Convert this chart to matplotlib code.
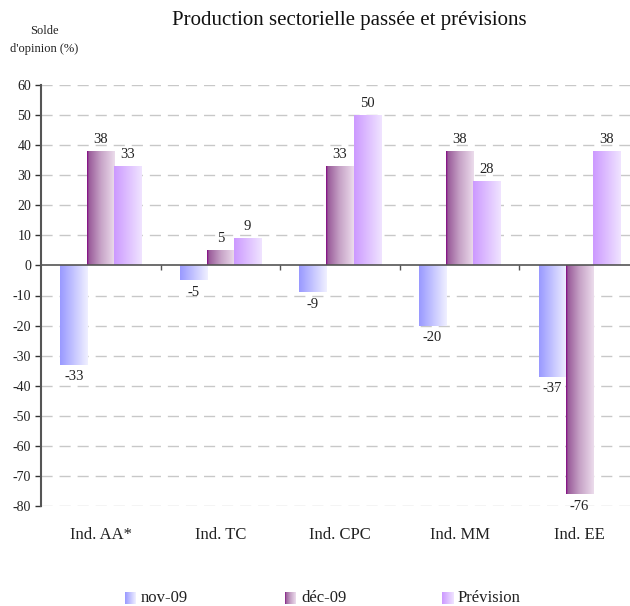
import numpy as np
import matplotlib
matplotlib.use("Agg")
import matplotlib.pyplot as plt
from matplotlib.colors import LinearSegmentedColormap

categories = ["Ind. AA*", "Ind. TC", "Ind. CPC", "Ind. MM", "Ind. EE"]
series_names = ["nov-09", "déc-09", "Prévision"]
nov09 = [-33, -5, -9, -20, -37]
dec09 = [38, 5, 33, 38, -76]
prevision = [33, 9, 50, 28, 38]
yticks = list(range(-80, 61, 10))

title = "Production sectorielle passée et prévisions"
ylabel = "Solde\nd'opinion (%)"

grad_colors = [
    [(0, "#9999ff"), (1, "#f0f0ff")],
    [(0, "#800080"), (0.07, "#9a5c9a"), (0.5, "#c7a3c7"), (1, "#ecdcec")],
    [(0, "#cc99ff"), (1, "#f0e4ff")],
]

plt.rcParams['font.family'] = ['Liberation Serif', 'DejaVu Serif']

fig = plt.figure(figsize=(6.3, 6.06), dpi=100)
ax = fig.add_axes([41/630, 100/606, 598/630, 421/606])

data = [nov09, dec09, prevision]
x = np.arange(len(categories))
bw = 0.226
offsets = [-bw, 0, bw]

ax.set_xlim(-0.5, len(categories) - 0.5)
ax.set_ylim(-80, 60)

for si, vals in enumerate(data):
    cmap = LinearSegmentedColormap.from_list(f"g{si}", grad_colors[si])
    grad = np.linspace(0, 1, 256).reshape(1, -1)
    bars = ax.bar(x + offsets[si], vals, width=bw, facecolor='none',
                  edgecolor='none', zorder=3)
    for b, v in zip(bars, vals):
        x0, w = b.get_x(), b.get_width()
        y0, h = b.get_y(), b.get_height()
        im = ax.imshow(grad, cmap=cmap, aspect='auto',
                       extent=[x0, x0 + w, min(y0, y0 + h), max(y0, y0 + h)],
                       zorder=3, interpolation='bilinear')
        im.set_clip_path(b)
        cx = x0 + w / 2
        if v >= 0:
            ax.annotate(str(v), (cx, v), xytext=(0, 4), textcoords='offset points',
                        ha='center', va='bottom', fontsize=10.5, color='#222222', zorder=5)
        else:
            ax.annotate(str(v), (cx, v), xytext=(0, -4), textcoords='offset points',
                        ha='center', va='top', fontsize=10.5, color='#222222', zorder=5)

ax.set_xlim(-0.5, len(categories) - 0.5)
ax.set_ylim(-80, 60)

# grid
ax.set_yticks(yticks)
ax.set_yticklabels([str(t) for t in yticks], fontsize=10, color='#222222')
for t in yticks:
    if t != 0:
        ax.axhline(t, color='#c8c8c8', lw=1.0, dashes=(8, 5), zorder=1)
ax.axhline(0, color='#555555', lw=1.2, zorder=4)
# category boundary ticks on zero line
bounds = np.arange(len(categories) + 1) - 0.5
ax.vlines(bounds[1:], -1.4, 0, color='#555555', lw=1.0, zorder=4)

ax.set_xticks(x)
ax.set_xticklabels(categories, fontsize=12, color='#222222')
ax.tick_params(axis='x', length=0, pad=15)
ax.tick_params(axis='y', length=4, width=1, color='#333333', pad=3)

for s in ['top', 'right', 'bottom']:
    ax.spines[s].set_visible(False)
ax.spines['left'].set_color('#555555')
ax.spines['left'].set_linewidth(1.5)

fig.text(349/630, 1 - 21/606, title, ha='center', va='center', fontsize=15, color='#111111')
fig.text(44/630, 1 - 40/606, ylabel, ha='center', va='center', fontsize=9,
         color='#222222', linespacing=1.6)

# legend
leg_x = [125, 285, 442]
for si, name in enumerate(series_names):
    cmap = LinearSegmentedColormap.from_list(f"l{si}", grad_colors[si])
    lax = fig.add_axes([leg_x[si]/630, (606-604)/606, 11/630, 12/606])
    lax.imshow(np.linspace(0, 1, 64).reshape(1, -1), cmap=cmap, aspect='auto')
    lax.axis('off')
    fig.text((leg_x[si] + 16)/630, 1 - 598/606, name, ha='left', va='center',
             fontsize=12, color='#222222')

fig.savefig("out.png", dpi=100)
